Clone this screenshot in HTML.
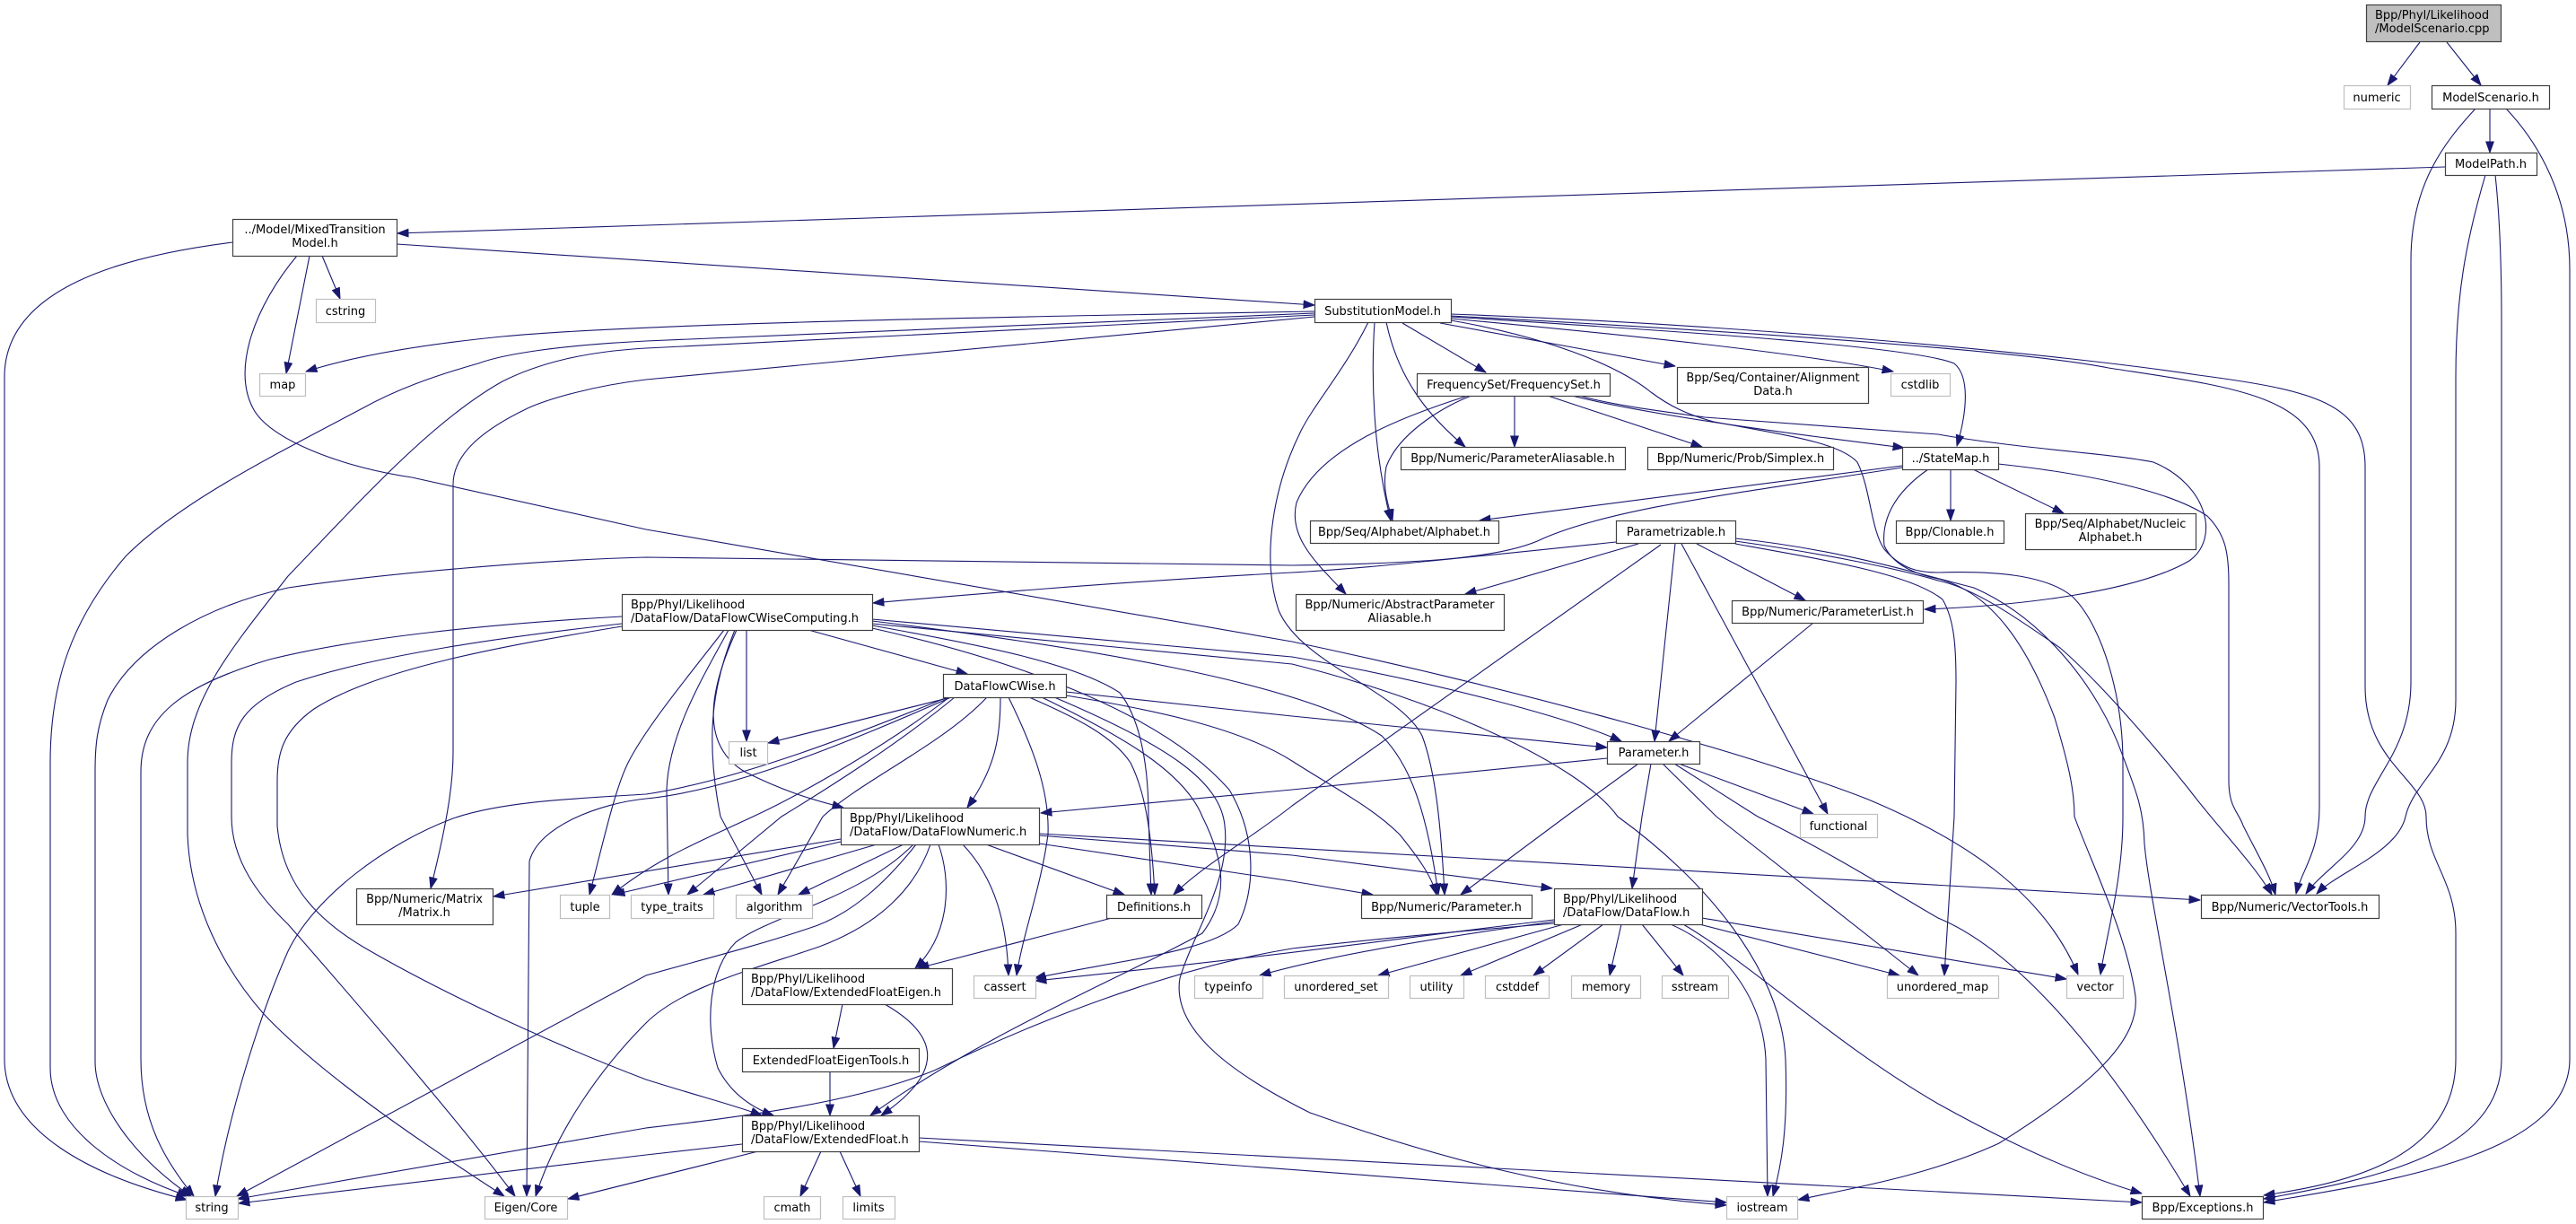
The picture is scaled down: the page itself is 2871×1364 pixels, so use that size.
<!DOCTYPE html>
<html><head><meta charset="utf-8"><style>
html,body{margin:0;padding:0;background:#fff;}
svg{display:block;}
text{font-family:"DejaVu Sans","Liberation Sans",sans-serif;font-size:13px;fill:#000;}
.n{fill:#fff;stroke:#404040;stroke-width:1.2;}
.g{fill:#fff;stroke:#bfbfbf;stroke-width:1.2;}
.r{fill:#bfbfbf;stroke:#404040;stroke-width:1.2;}
.e path{fill:none;stroke:#191970;stroke-width:1.1;marker-end:url(#a);}
</style></head><body>
<svg width="2871" height="1364" viewBox="0 0 2871 1364" xmlns="http://www.w3.org/2000/svg">
<defs><marker id="a" markerWidth="13" markerHeight="10" refX="12.5" refY="4.75" orient="auto" markerUnits="userSpaceOnUse"><path d="M0.5,0.5 L12.5,4.75 L0.5,9z" fill="#191970" stroke="#191970" stroke-width="1"/></marker></defs>
<rect width="2871" height="1364" fill="#fff"/>
<g class="e">
<path d="M2697,47 L2661,95"/>
<path d="M2727,47 L2765,95"/>
<path d="M2775,121 L2775,170"/>
<path d="M2759,121 C2725,158 2687,205 2687,290 L2687,760 C2687,840 2636,870 2636,910 C2636,945 2590,968 2570,996"/>
<path d="M2793,121 C2830,160 2864,220 2864,300 L2864,1180 C2864,1290 2650,1318 2523,1340"/>
<path d="M2781,195 C2786,240 2788,290 2788,360 L2788,1180 C2788,1285 2650,1313 2523,1336"/>
<path d="M2770,195 C2748,270 2737,330 2737,420 L2737,780 C2737,850 2690,870 2681,910 C2672,950 2605,972 2582,996"/>
<path d="M2725,186 L443,260"/>
<path d="M1617,350 C1950,362 2300,395 2450,418 C2580,435 2636,450 2636,520 L2636,765 C2636,850 2704,870 2704,910 C2704,960 2737,980 2737,1040 L2737,1180 C2737,1290 2620,1318 2523,1332"/>
<path d="M1617,352 C1950,370 2250,390 2350,410 C2480,430 2585,440 2585,520 L2585,900 C2585,950 2565,970 2559,996"/>
<path d="M1617,353 C1850,368 2130,385 2178,405 C2196,420 2192,460 2181,497"/>
<path d="M1617,355 C1800,372 2000,392 2110,414"/>
<path d="M1605,360 L1867,408"/>
<path d="M1563,360 L1656,415"/>
<path d="M1617,357 C1720,375 1800,405 1840,437 C1860,452 1880,462 1910,470 C1990,485 2050,493 2070,515 C2085,545 2085,590 2100,612 C2120,635 2140,638 2160,638 C2220,636 2280,640 2310,665 C2345,700 2366,780 2366,850 L2366,910 C2366,980 2348,1040 2341,1086"/>
<path d="M1760,441 C1800,452 1850,458 1900,465 L2160,484 C2250,500 2350,505 2400,515 C2460,540 2475,600 2440,625 C2380,660 2250,675 2145,679"/>
<path d="M1752,441 C1820,458 1950,478 2122,499"/>
<path d="M1725,441 L1897,498"/>
<path d="M1688,441 L1688,498"/>
<path d="M1640,441 C1615,450 1560,480 1545,520 C1540,545 1548,565 1552,580"/>
<path d="M1532,359 C1528,420 1530,500 1550,580"/>
<path d="M1636,441 C1560,465 1470,500 1445,560 C1435,600 1470,630 1500,662"/>
<path d="M1545,359 C1560,430 1600,470 1633,498"/>
<path d="M1525,359 C1500,410 1465,450 1450,480 C1420,540 1405,620 1425,680 C1450,740 1560,770 1585,820 C1600,860 1606,920 1610,997"/>
<path d="M442,272 L1465,340"/>
<path d="M345,285 L319,416"/>
<path d="M359,285 L379,333"/>
<path d="M259,270 C140,285 5,320 5,420 L5,1180 C5,1260 100,1310 208,1337"/>
<path d="M331,285 C285,340 258,410 282,455 C300,490 380,520 459,532 L720,590 L1440,715 C1700,770 1950,840 2080,890 C2200,940 2280,1000 2316,1086"/>
<path d="M1465,347 C1000,355 700,362 560,375 C480,383 400,395 341,414"/>
<path d="M1465,349 L720,380 C620,385 560,395 533,405 C480,420 440,435 404,455 C300,510 200,560 140,620 C80,690 56,760 56,850 L56,1190 C56,1260 140,1310 210,1333"/>
<path d="M1465,351 L720,388 C650,392 600,405 560,425 C480,470 400,560 321,642 C260,720 209,780 209,850 L209,930 C212,1010 250,1080 294,1130 C360,1200 480,1280 562,1333"/>
<path d="M1465,353 L720,423 C660,430 610,445 588,455 C540,478 505,505 505,540 L505,838 C505,870 500,910 480,990"/>
<path d="M2120,519 L1649,580"/>
<path d="M2120,521 C1950,548 1800,565 1720,600 C1680,620 1600,628 1440,630 L720,621 C600,624 420,640 321,655 C230,675 150,720 120,780 C108,810 106,830 106,860 L106,1183 C106,1230 150,1290 213,1333"/>
<path d="M2174,523 L2174,580"/>
<path d="M2199,523 L2300,572"/>
<path d="M2227,517 C2330,528 2420,548 2460,575 C2480,595 2484,615 2484,650 L2484,870 C2484,900 2495,905 2500,920 C2515,950 2530,975 2536,997"/>
<path d="M2149,523 C2110,550 2097,580 2100,608 C2110,630 2135,640 2160,645 C2220,660 2260,720 2290,800 C2305,850 2312,880 2312,910 C2330,960 2370,1040 2380,1110 C2385,1160 2330,1210 2228,1274 C2150,1310 2060,1325 2004,1337"/>
<path d="M1934,606 C2040,625 2130,640 2165,668 C2178,690 2180,720 2180,760 L2178,910 L2167,1087"/>
<path d="M1934,600 C2050,612 2140,640 2200,655 C2280,690 2340,770 2365,840 C2380,880 2389,900 2390,940 C2395,1000 2430,1150 2452,1333"/>
<path d="M1934,603 C2040,618 2120,635 2160,647 C2200,655 2250,690 2296,722 C2340,760 2400,830 2440,880 C2470,920 2510,960 2532,997"/>
<path d="M1891,606 L2012,669"/>
<path d="M1867,606 L1844,826"/>
<path d="M1826,606 L1633,662"/>
<path d="M1801,604 C1600,625 1500,635 1440,638 C1250,648 1050,665 973,672"/>
<path d="M1851,607 L1440,898 C1400,930 1340,965 1308,997"/>
<path d="M1874,606 L2037,907"/>
<path d="M2021,694 L1860,826"/>
<path d="M832,702 L832,826"/>
<path d="M901,702 L1078,751"/>
<path d="M693,687 C550,695 400,710 300,735 C200,765 157,800 157,860 L157,1180 C157,1250 185,1295 216,1333"/>
<path d="M693,695 C560,710 420,730 330,760 C270,785 258,810 258,850 L258,910 C258,960 290,1000 321,1030 C400,1120 520,1260 574,1333"/>
<path d="M693,698 C560,720 420,745 350,790 C315,815 309,840 309,870 L309,920 C315,990 360,1030 413,1060 C500,1110 620,1165 720,1203 C780,1222 820,1232 849,1243"/>
<path d="M807,702 C770,750 720,810 700,850 C685,880 672,940 657,997"/>
<path d="M812,702 C780,760 745,820 743,880 L745,997"/>
<path d="M819,702 C795,760 785,820 803,910 L849,997"/>
<path d="M821,702 C790,770 780,830 830,860 C870,880 900,890 940,900"/>
<path d="M972,697 C1100,720 1200,740 1248,772 C1270,800 1280,850 1280,910 L1283,997"/>
<path d="M972,690 L1440,732 C1600,760 1750,800 1807,826"/>
<path d="M972,692 C1200,720 1450,760 1540,820 C1570,850 1590,900 1603,997"/>
<path d="M972,695 L1440,740 C1600,780 1760,850 1803,910 C1900,980 1985,1080 1990,1180 C1993,1260 1985,1300 1976,1333"/>
<path d="M972,700 C1150,740 1300,800 1370,880 C1400,930 1400,990 1380,1030 C1350,1060 1250,1070 1153,1090"/>
<path d="M1060,777 L856,828"/>
<path d="M1064,777 C1000,830 920,880 871,910 L766,997"/>
<path d="M1058,777 C990,830 900,880 860,900 C800,930 740,950 682,997"/>
<path d="M1056,777 C950,820 820,870 720,885 C640,890 560,893 505,912 C430,940 350,1000 321,1060 C290,1130 255,1240 240,1333"/>
<path d="M1060,777 C950,825 820,880 720,890 C670,895 600,920 590,960 L587,1333"/>
<path d="M1115,777 C1115,820 1110,855 1078,900"/>
<path d="M1100,777 C1050,830 960,870 917,910 L867,997"/>
<path d="M1147,777 C1200,800 1240,820 1260,850 C1275,880 1283,920 1287,997"/>
<path d="M1124,777 C1150,830 1170,880 1168,930 C1160,990 1140,1040 1133,1087"/>
<path d="M1188,771 L1440,798 L1791,833"/>
<path d="M1188,775 C1280,790 1380,810 1440,848 C1490,880 1530,900 1560,930 C1580,955 1595,975 1601,997"/>
<path d="M1161,777 C1250,820 1320,860 1340,910 C1365,960 1370,1000 1340,1040 C1250,1090 1100,1150 970,1243"/>
<path d="M1175,777 C1300,830 1360,870 1365,920 C1372,980 1330,1040 1315,1090 C1305,1150 1380,1200 1460,1240 C1600,1290 1750,1330 1924,1343"/>
<path d="M937,935 L550,999"/>
<path d="M937,938 L684,997"/>
<path d="M977,941 L784,997"/>
<path d="M1007,941 L890,997"/>
<path d="M1021,941 C990,980 950,1020 900,1035 C840,1055 780,1070 720,1087 L264,1333"/>
<path d="M1037,941 C1020,990 980,1030 913,1055 C840,1080 760,1100 720,1140 C670,1190 620,1260 597,1333"/>
<path d="M1046,941 C1060,980 1060,1040 1020,1079"/>
<path d="M1073,941 C1110,980 1122,1030 1124,1087"/>
<path d="M1099,941 L1253,997"/>
<path d="M1158,929 L2452,1003"/>
<path d="M1158,931 L1440,953 L1730,990"/>
<path d="M1158,940 L1440,982 L1530,997"/>
<path d="M1018,941 C960,1000 860,1020 820,1050 C790,1080 785,1140 800,1190 C815,1220 840,1235 862,1243"/>
<path d="M1791,845 L1440,880 L1160,906"/>
<path d="M1826,851 L1745,910 L1628,997"/>
<path d="M1840,851 L1830,910 L1819,990"/>
<path d="M1853,851 L1913,910 L2138,1087"/>
<path d="M1866,851 L1959,910 C2040,950 2120,1000 2160,1023 C2250,1060 2350,1180 2441,1333"/>
<path d="M1871,851 L2021,907"/>
<path d="M1743,1030 L1536,1087"/>
<path d="M1764,1030 L1628,1087"/>
<path d="M1787,1030 L1709,1087"/>
<path d="M1807,1030 L1794,1087"/>
<path d="M1830,1030 L1876,1087"/>
<path d="M1894,1030 L2117,1087"/>
<path d="M1897,1023 L2303,1091"/>
<path d="M1862,1030 C1930,1060 1965,1120 1968,1180 L1970,1333"/>
<path d="M1876,1030 C1960,1080 2040,1160 2160,1230 C2250,1280 2320,1310 2387,1330"/>
<path d="M1732,1025 C1600,1040 1450,1063 1154,1093"/>
<path d="M1732,1027 C1600,1045 1480,1065 1404,1087"/>
<path d="M1732,1029 C1600,1040 1500,1050 1440,1057 C1300,1080 1150,1140 1041,1193 C950,1230 820,1245 720,1257 L265,1336"/>
<path d="M939,1119 L929,1168"/>
<path d="M986,1119 C1040,1150 1060,1190 982,1243"/>
<path d="M925,1194 L925,1243"/>
<path d="M1239,1023 L1023,1079"/>
<path d="M915,1283 L892,1333"/>
<path d="M936,1283 L959,1333"/>
<path d="M827,1275 L720,1287 L266,1341"/>
<path d="M845,1283 L633,1336"/>
<path d="M1024,1268 L2387,1340"/>
<path d="M1024,1272 L1924,1340"/>
</g>
<g>
<rect class="r" x="2637.5" y="5.5" width="150" height="41"/>
<text x="2647" y="21">Bpp/Phyl/Likelihood</text><text x="2647" y="36">/ModelScenario.cpp</text>
<rect class="g" x="2612.5" y="95.5" width="74" height="26"/><text x="2649" y="113" text-anchor="middle">numeric</text>
<rect class="n" x="2710.5" y="95.5" width="131" height="26"/><text x="2776" y="113" text-anchor="middle">ModelScenario.h</text>
<rect class="n" x="2725.5" y="170.5" width="102" height="25"/><text x="2776" y="187" text-anchor="middle">ModelPath.h</text>
<rect class="n" x="259.5" y="244.5" width="183" height="41"/>
<text x="351" y="260" text-anchor="middle">../Model/MixedTransition</text><text x="351" y="275" text-anchor="middle">Model.h</text>
<rect class="g" x="352.5" y="333.5" width="66" height="26"/><text x="385" y="351" text-anchor="middle">cstring</text>
<rect class="g" x="289.5" y="416.5" width="51" height="25"/><text x="315" y="433" text-anchor="middle">map</text>
<rect class="n" x="1465.5" y="333.5" width="152" height="26"/><text x="1541" y="351" text-anchor="middle">SubstitutionModel.h</text>
<rect class="n" x="1579.5" y="416.5" width="215" height="25"/><text x="1687" y="433" text-anchor="middle">FrequencySet/FrequencySet.h</text>
<rect class="n" x="1869.5" y="409.5" width="213" height="40"/>
<text x="1976" y="425" text-anchor="middle">Bpp/Seq/Container/Alignment</text><text x="1976" y="440" text-anchor="middle">Data.h</text>
<rect class="g" x="2107.5" y="416.5" width="66" height="25"/><text x="2140" y="433" text-anchor="middle">cstdlib</text>
<rect class="n" x="1561.5" y="498.5" width="250" height="25"/><text x="1686" y="515" text-anchor="middle">Bpp/Numeric/ParameterAliasable.h</text>
<rect class="n" x="1836.5" y="498.5" width="207" height="25"/><text x="1940" y="515" text-anchor="middle">Bpp/Numeric/Prob/Simplex.h</text>
<rect class="n" x="2120.5" y="498.5" width="107" height="25"/><text x="2174" y="515" text-anchor="middle">../StateMap.h</text>
<rect class="n" x="1460.5" y="580.5" width="210" height="25"/><text x="1565" y="597" text-anchor="middle">Bpp/Seq/Alphabet/Alphabet.h</text>
<rect class="n" x="1801.5" y="580.5" width="133" height="25"/><text x="1868" y="597" text-anchor="middle">Parametrizable.h</text>
<rect class="n" x="2113.5" y="580.5" width="120" height="25"/><text x="2173" y="597" text-anchor="middle">Bpp/Clonable.h</text>
<rect class="n" x="2257.5" y="572.5" width="190" height="40"/>
<text x="2352" y="588" text-anchor="middle">Bpp/Seq/Alphabet/Nucleic</text><text x="2352" y="603" text-anchor="middle">Alphabet.h</text>
<rect class="n" x="1444.5" y="662.5" width="232" height="40"/>
<text x="1560" y="678" text-anchor="middle">Bpp/Numeric/AbstractParameter</text><text x="1560" y="693" text-anchor="middle">Aliasable.h</text>
<rect class="n" x="1930.5" y="669.5" width="213" height="25"/><text x="2037" y="686" text-anchor="middle">Bpp/Numeric/ParameterList.h</text>
<rect class="n" x="693.5" y="662.5" width="279" height="40"/>
<text x="703" y="678">Bpp/Phyl/Likelihood</text><text x="703" y="693">/DataFlow/DataFlowCWiseComputing.h</text>
<rect class="n" x="1051.5" y="751.5" width="137" height="26"/><text x="1120" y="769" text-anchor="middle">DataFlowCWise.h</text>
<rect class="g" x="812.5" y="826.5" width="43" height="25"/><text x="834" y="843" text-anchor="middle">list</text>
<rect class="n" x="1791.5" y="826.5" width="103" height="25"/><text x="1843" y="843" text-anchor="middle">Parameter.h</text>
<rect class="n" x="937.5" y="900.5" width="221" height="41"/>
<text x="947" y="916">Bpp/Phyl/Likelihood</text><text x="947" y="931">/DataFlow/DataFlowNumeric.h</text>
<rect class="g" x="2006.5" y="907.5" width="86" height="26"/><text x="2049" y="925" text-anchor="middle">functional</text>
<rect class="n" x="397.5" y="990.5" width="152" height="40"/>
<text x="473" y="1006" text-anchor="middle">Bpp/Numeric/Matrix</text><text x="473" y="1021" text-anchor="middle">/Matrix.h</text>
<rect class="g" x="624.5" y="997.5" width="55" height="26"/><text x="652" y="1015" text-anchor="middle">tuple</text>
<rect class="g" x="703.5" y="997.5" width="92" height="26"/><text x="749" y="1015" text-anchor="middle">type_traits</text>
<rect class="g" x="820.5" y="997.5" width="85" height="26"/><text x="863" y="1015" text-anchor="middle">algorithm</text>
<rect class="n" x="1233.5" y="997.5" width="106" height="26"/><text x="1286" y="1015" text-anchor="middle">Definitions.h</text>
<rect class="n" x="1517.5" y="997.5" width="190" height="26"/><text x="1612" y="1015" text-anchor="middle">Bpp/Numeric/Parameter.h</text>
<rect class="n" x="1732.5" y="990.5" width="165" height="40"/>
<text x="1742" y="1006">Bpp/Phyl/Likelihood</text><text x="1742" y="1021">/DataFlow/DataFlow.h</text>
<rect class="n" x="2453.5" y="997.5" width="198" height="26"/><text x="2552" y="1015" text-anchor="middle">Bpp/Numeric/VectorTools.h</text>
<rect class="n" x="827.5" y="1079.5" width="234" height="40"/>
<text x="837" y="1095">Bpp/Phyl/Likelihood</text><text x="837" y="1110">/DataFlow/ExtendedFloatEigen.h</text>
<rect class="g" x="1085.5" y="1087.5" width="69" height="25"/><text x="1120" y="1104" text-anchor="middle">cassert</text>
<rect class="g" x="1331.5" y="1087.5" width="76" height="25"/><text x="1369" y="1104" text-anchor="middle">typeinfo</text>
<rect class="g" x="1431.5" y="1087.5" width="116" height="25"/><text x="1489" y="1104" text-anchor="middle">unordered_set</text>
<rect class="g" x="1571.5" y="1087.5" width="60" height="25"/><text x="1601" y="1104" text-anchor="middle">utility</text>
<rect class="g" x="1655.5" y="1087.5" width="71" height="25"/><text x="1691" y="1104" text-anchor="middle">cstddef</text>
<rect class="g" x="1751.5" y="1087.5" width="77" height="25"/><text x="1790" y="1104" text-anchor="middle">memory</text>
<rect class="g" x="1852.5" y="1087.5" width="74" height="25"/><text x="1889" y="1104" text-anchor="middle">sstream</text>
<rect class="g" x="2103.5" y="1087.5" width="124" height="25"/><text x="2165" y="1104" text-anchor="middle">unordered_map</text>
<rect class="g" x="2303.5" y="1087.5" width="63" height="25"/><text x="2335" y="1104" text-anchor="middle">vector</text>
<rect class="n" x="827.5" y="1168.5" width="197" height="26"/><text x="926" y="1186" text-anchor="middle">ExtendedFloatEigenTools.h</text>
<rect class="n" x="827.5" y="1243.5" width="197" height="40"/>
<text x="837" y="1259">Bpp/Phyl/Likelihood</text><text x="837" y="1274">/DataFlow/ExtendedFloat.h</text>
<rect class="g" x="207.5" y="1333.5" width="58" height="25"/><text x="236" y="1350" text-anchor="middle">string</text>
<rect class="g" x="540.5" y="1333.5" width="92" height="25"/><text x="586" y="1350" text-anchor="middle">Eigen/Core</text>
<rect class="g" x="851.5" y="1333.5" width="63" height="25"/><text x="883" y="1350" text-anchor="middle">cmath</text>
<rect class="g" x="939.5" y="1333.5" width="58" height="25"/><text x="968" y="1350" text-anchor="middle">limits</text>
<rect class="g" x="1924.5" y="1333.5" width="79" height="25"/><text x="1964" y="1350" text-anchor="middle">iostream</text>
<rect class="n" x="2387.5" y="1333.5" width="135" height="25"/><text x="2455" y="1350" text-anchor="middle">Bpp/Exceptions.h</text>
</g>
</svg>
</body></html>
